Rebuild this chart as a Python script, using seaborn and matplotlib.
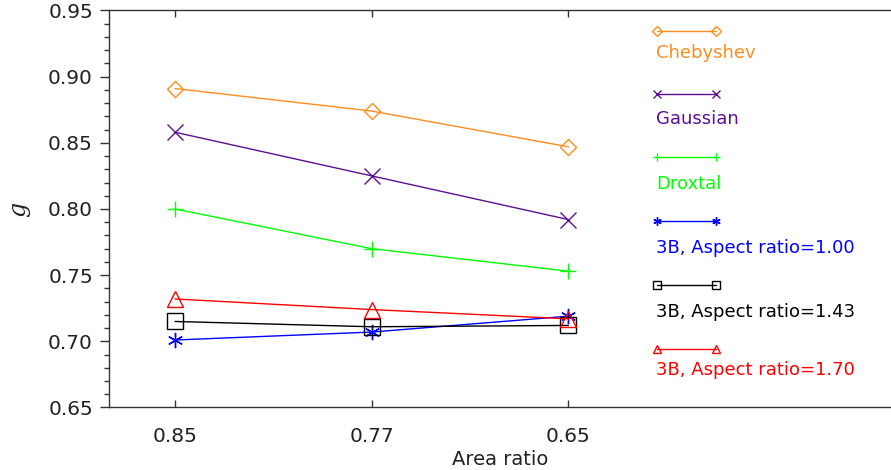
import matplotlib
matplotlib.use('Agg')
import matplotlib.pyplot as plt
from matplotlib.lines import Line2D
from matplotlib.ticker import MultipleLocator, FormatStrFormatter
import pandas as pd
import seaborn as sns

sns.set_style('ticks')
plt.rcParams['font.family'] = ['DejaVu Sans']

area_ratio = ['0.85', '0.77', '0.65']
chebyshev = [0.891, 0.874, 0.847]
gaussian = [0.858, 0.825, 0.792]
droxtal = [0.800, 0.770, 0.753]
ar_100 = [0.701, 0.707, 0.719]
ar_143 = [0.715, 0.711, 0.712]
ar_170 = [0.732, 0.724, 0.717]

names = ['Chebyshev', 'Gaussian', 'Droxtal',
         '3B, Aspect ratio=1.00', '3B, Aspect ratio=1.43', '3B, Aspect ratio=1.70']
series = [chebyshev, gaussian, droxtal, ar_100, ar_143, ar_170]
colors = ['#FF8C1E', '#5F0F96', '#00FF00', '#0000FF', '#000000', '#FF0000']
markers = ['D', 'x', '+', (6, 2, 0), 's', '^']
msizes = [8.5, 11, 11, 11, 11, 11]
leg_msizes = [5, 6, 6, 6, 6, 6]

fig = plt.figure(figsize=(8.91, 4.70), dpi=100)
ax = fig.add_axes([0.1223, 0.133, 0.8777, 0.8447])

for name, vals, c, m, ms in zip(names, series, colors, markers, msizes):
    df = pd.DataFrame({'Area ratio': area_ratio, 'g': vals})
    sns.lineplot(data=df, x='Area ratio', y='g', color=c, marker=m, markersize=ms,
                 markerfacecolor='none', markeredgecolor=c, markeredgewidth=1,
                 linewidth=1, ax=ax)

ax.set_xlim(-0.336, 3.64)
ax.set_ylim(0.65, 0.95)
ax.yaxis.set_major_locator(MultipleLocator(0.05))
ax.yaxis.set_minor_locator(MultipleLocator(0.01))
ax.yaxis.set_major_formatter(FormatStrFormatter('%.2f'))

for s in ax.spines.values():
    s.set_linewidth(1.0)
    s.set_color('#333333')
ax.spines['right'].set_visible(False)

ax.tick_params(axis='y', which='major', direction='out', length=6.5, width=1,
               labelsize=14.5, pad=5, colors='#333333')
ax.tick_params(axis='y', which='minor', direction='out', length=3.6, width=1,
               colors='#333333')
ax.tick_params(axis='x', which='major', direction='in', length=5, width=1,
               top=True, labelsize=14.5, pad=14, colors='#333333')
for lab in ax.get_xticklabels() + ax.get_yticklabels():
    lab.set_color('#222222')

ax.set_xlabel('Area ratio', fontsize=14, labelpad=3, color='#222222')
ax.set_ylabel('g', fontsize=17, family='DejaVu Serif', style='italic',
              labelpad=13, color='#222222')

# legend: line with symbols at both ends, label underneath
W, H = 891, 470
line_y = [31, 94, 157, 221, 285, 349]
text_y = [53, 119, 184, 248, 312, 370]
for name, c, m, ms, ly, ty in zip(names, colors, markers, leg_msizes, line_y, text_y):
    fig.add_artist(Line2D([657 / W, 716 / W], [1 - ly / H, 1 - ly / H], color=c,
                          linewidth=1, marker=m, markersize=ms,
                          markerfacecolor='none', markeredgecolor=c,
                          markeredgewidth=1, transform=fig.transFigure))
    fig.text(656 / W, 1 - ty / H, name, color=c, fontsize=13, va='center', ha='left')

fig.savefig('out.png', dpi=100)
